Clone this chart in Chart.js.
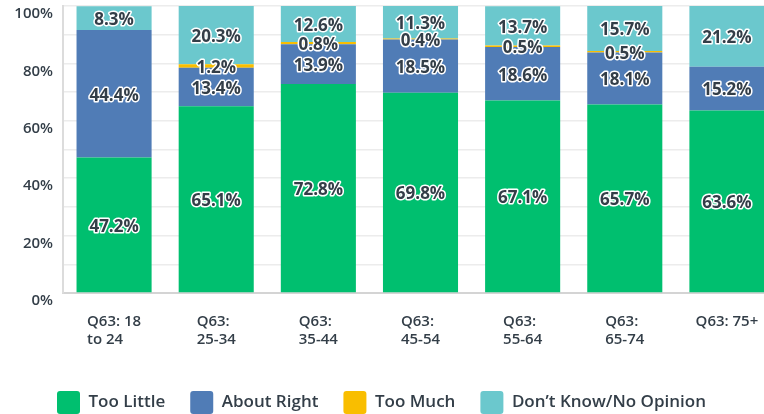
<!DOCTYPE html>
<html>
<head>
<meta charset="utf-8">
<script src="https://cdn.jsdelivr.net/npm/chart.js@4.4.1/dist/chart.umd.min.js"></script>
<style>
    html, body { margin: 0; padding: 0; background: #fff; overflow: hidden; }
    #wrap { position: absolute; left: -15px; top: 0; width: 793px; height: 414px; }
</style>
</head>
<body>
<div id="wrap"><canvas id="ageChart"></canvas></div>
<script>
const categories = [
    ['Q63: 18', 'to 24'],
    ['Q63:', '25-34'],
    ['Q63:', '35-44'],
    ['Q63:', '45-54'],
    ['Q63:', '55-64'],
    ['Q63:', '65-74'],
    ['Q63: 75+']
];
const tooLittle = [47.2, 65.1, 72.8, 69.8, 67.1, 65.7, 63.6];
const aboutRight = [44.4, 13.4, 13.9, 18.5, 18.6, 18.1, 15.2];
const tooMuch = [0, 1.2, 0.8, 0.4, 0.5, 0.5, 0];
const dontKnow = [8.3, 20.3, 12.6, 11.3, 13.7, 15.7, 21.2];
const yTicks = [0, 20, 40, 60, 80, 100];

const textColor = '#333e48';
const fontFamily = '"Open Sans", sans-serif';

// value labels inside each bar segment
const segmentLabels = {
    id: 'segmentLabels',
    afterDatasetsDraw(chart) {
        const ctx = chart.ctx;
        ctx.save();
        ctx.font = '700 17px ' + fontFamily;
        ctx.textAlign = 'center';
        ctx.textBaseline = 'middle';
        ctx.lineJoin = 'round';
        chart.data.datasets.forEach((ds, di) => {
            const meta = chart.getDatasetMeta(di);
            meta.data.forEach((bar, i) => {
                const v = ds.data[i];
                if (!v) return;
                const y = (bar.y + bar.base) / 2 + 2;
                const txt = v.toFixed(1) + '%';
                ctx.strokeStyle = '#fff';
                ctx.lineWidth = 3;
                ctx.strokeText(txt, bar.x, y);
                ctx.fillStyle = textColor;
                ctx.fillText(txt, bar.x, y);
            });
        });
        ctx.restore();
    }
};

// category labels: block centred under the bar, lines left aligned
const categoryLabels = {
    id: 'categoryLabels',
    afterDraw(chart) {
        const ctx = chart.ctx;
        const xScale = chart.scales.x;
        ctx.save();
        ctx.font = '600 15px ' + fontFamily;
        ctx.fillStyle = textColor;
        ctx.textAlign = 'left';
        ctx.textBaseline = 'alphabetic';
        categories.forEach((lines, i) => {
            const cx = xScale.getPixelForValue(i);
            const w = Math.max(...lines.map(l => ctx.measureText(l).width));
            lines.forEach((line, j) => {
                ctx.fillText(line, cx - w / 2, xScale.top + 33 + j * 18);
            });
        });
        ctx.restore();
    }
};

new Chart(document.getElementById('ageChart'), {
    type: 'bar',
    data: {
        labels: categories.map(c => c.join(' ')),
        datasets: [
            { label: 'Too Little', data: tooLittle, backgroundColor: '#00BF6F' },
            { label: 'About Right', data: aboutRight, backgroundColor: '#507CB6' },
            { label: 'Too Much', data: tooMuch, backgroundColor: '#F9BE00' },
            { label: 'Don\u2019t Know/No Opinion', data: dontKnow, backgroundColor: '#6BC8CD' }
        ]
    },
    options: {
        responsive: true,
        maintainAspectRatio: false,
        animation: false,
        layout: { padding: { top: 6, right: 0, bottom: -10, left: 0 } },
        datasets: {
            bar: { categoryPercentage: 1, barPercentage: 0.735, borderWidth: 0 }
        },
        plugins: {
            tooltip: { enabled: false },
            legend: {
                position: 'bottom',
                labels: {
                    boxWidth: 23,
                    boxHeight: 23,
                    useBorderRadius: true,
                    borderRadius: 3,
                    padding: 25,
                    color: textColor,
                    font: { family: fontFamily, size: 17, weight: '600' }
                }
            }
        },
        scales: {
            x: {
                stacked: true,
                grid: { display: false },
                border: { color: '#d4d4d4', width: 2 },
                ticks: { display: false },
                afterFit(scale) { scale.height = 73; }
            },
            y: {
                stacked: true,
                min: 0,
                max: 100,
                grid: { color: '#ececec', lineWidth: 1.5, drawTicks: false },
                border: { color: '#dcdcdc', width: 2 },
                ticks: {
                    stepSize: 10,
                    padding: 10,
                    labelOffset: 8,
                    color: textColor,
                    font: { family: fontFamily, size: 15, weight: '600' },
                    callback: v => yTicks.includes(v) ? v + '%' : ''
                },
                afterFit(scale) {
                    scale.width = 78;
                    scale.paddingTop = 0;
                    scale.paddingBottom = 0;
                }
            }
        }
    },
    plugins: [segmentLabels, categoryLabels]
});
</script>
</body>
</html>
